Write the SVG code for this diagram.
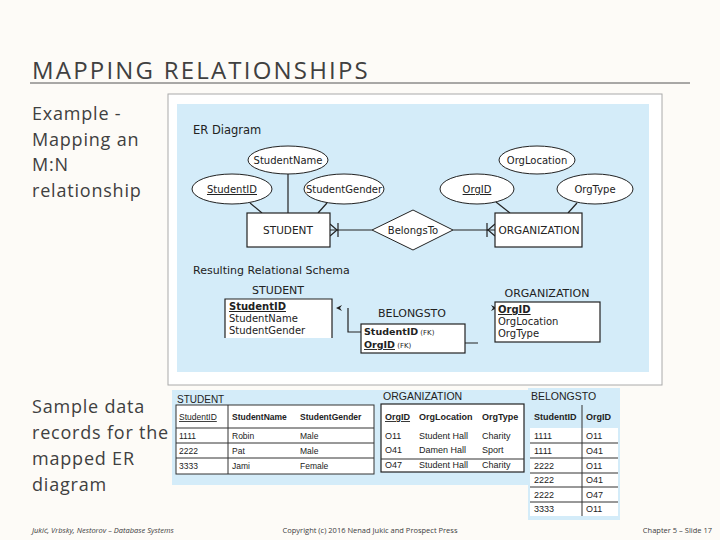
<svg xmlns="http://www.w3.org/2000/svg" width="720" height="540" viewBox="0 0 720 540">
<style>
.sl{font-family:"Open Sans","DejaVu Sans",sans-serif;fill:#404040}
.d{font-family:"DejaVu Sans",sans-serif;fill:#222}
.a{font-family:"Liberation Sans",Arial,sans-serif;fill:#222}
.ln{stroke:#222;stroke-width:1.2;fill:none}
.el{fill:#fff;stroke:#222;stroke-width:1}
.bx{fill:#fff;stroke:#222;stroke-width:1.2}
.tl{stroke:#333;stroke-width:1}
</style>
<rect width="720" height="540" fill="#fdfbf7"/>
<text class="sl" x="32" y="79" font-size="24" letter-spacing="2.2">MAPPING RELATIONSHIPS</text>
<line x1="30" y1="83" x2="690" y2="83" stroke="#555" stroke-width="1"/>
<g class="sl" font-size="18" letter-spacing="0.8">
<text x="32" y="120">Example -</text><text x="32" y="146">Mapping an</text><text x="32" y="171">M:N</text><text x="32" y="197">relationship</text>
<text x="32" y="413">Sample data</text><text x="32" y="439">records for the</text><text x="32" y="465">mapped ER</text><text x="32" y="491">diagram</text>
</g>
<rect x="168" y="94" width="494" height="291" fill="#fff" stroke="#aaa"/>
<rect x="177" y="104" width="472" height="268" fill="#d4ecf9"/>
<text class="d" x="193" y="134" font-size="11.5">ER Diagram</text>
<g id="connectors">
<line class="ln" x1="288" y1="174" x2="288" y2="213"/>
<line class="ln" x1="250" y1="203" x2="262" y2="213"/>
<line class="ln" x1="327" y1="203" x2="318" y2="213"/>
<line class="ln" x1="496" y1="202" x2="510" y2="213"/>
<line class="ln" x1="577" y1="203" x2="568" y2="213"/>
<line class="ln" x1="330" y1="230" x2="372" y2="230"/>
<path class="ln" d="M330 224 L337 230 L330 236 M338 223 V237"/>
<line class="ln" x1="453" y1="230" x2="495" y2="230"/>
<path class="ln" d="M495 224 L488 230 L495 236 M487 223 V237"/>
<path class="ln" d="M348 308 V332 H361 M465 343 H478"/>
<path d="M336 308 L342 305 L340 308 L342 311Z" fill="#222"/>
<path d="M497 308 L491 305 L493 308 L491 311Z" fill="#222"/>
</g>
<g id="StudentName"><ellipse class="el" cx="288" cy="160" rx="40" ry="14"/><text class="d" x="288" y="164" font-size="10" text-anchor="middle">StudentName</text></g>
<g id="StudentID"><ellipse class="el" cx="232" cy="189" rx="40" ry="15"/><text class="d" x="232" y="193" font-size="10" text-anchor="middle" text-decoration="underline">StudentID</text></g>
<g id="StudentGender"><ellipse class="el" cx="344" cy="189" rx="40" ry="15"/><text class="d" x="344" y="193" font-size="10" text-anchor="middle">StudentGender</text></g>
<g id="STUDENT"><rect class="bx" x="247" y="213" width="83" height="34"/><text class="d" x="288" y="234" font-size="10.5" text-anchor="middle">STUDENT</text></g>
<g id="BelongsTo"><path class="el" d="M372 230 L413 210 L453 230 L413 250Z"/><text class="d" x="413" y="234" font-size="10" text-anchor="middle">BelongsTo</text></g>
<g id="ORGANIZATION"><rect class="bx" x="495" y="213" width="87" height="34"/><text class="d" x="539" y="234" font-size="10.5" text-anchor="middle">ORGANIZATION</text></g>
<g id="OrgLocation"><ellipse class="el" cx="537" cy="160" rx="38" ry="14"/><text class="d" x="537" y="164" font-size="10" text-anchor="middle">OrgLocation</text></g>
<g id="OrgID"><ellipse class="el" cx="477" cy="189" rx="37" ry="15"/><text class="d" x="477" y="193" font-size="10" text-anchor="middle" text-decoration="underline">OrgID</text></g>
<g id="OrgType"><ellipse class="el" cx="595" cy="189" rx="38" ry="15"/><text class="d" x="595" y="193" font-size="10" text-anchor="middle">OrgType</text></g>
<text class="d" x="193" y="274" font-size="11">Resulting Relational Schema</text>
<g id="STUDENT-rel">
<text class="d" x="278" y="294" font-size="11" text-anchor="middle">STUDENT</text>
<path d="M225 338 V299 H332 V338Z" fill="#fff"/><path class="ln" d="M225 338 V299 H332 V338"/>
<text class="d" x="229" y="310" font-size="10" font-weight="bold" text-decoration="underline">StudentID</text>
<text class="d" x="229" y="322" font-size="10">StudentName</text>
<text class="d" x="229" y="334" font-size="10">StudentGender</text>
</g>
<g id="BELONGSTO-rel">
<text class="d" x="412" y="317" font-size="11" text-anchor="middle">BELONGSTO</text>
<rect class="bx" x="361" y="324" width="104" height="29"/>
<text class="d" x="364" y="335" font-size="9.5"><tspan font-weight="bold">StudentID</tspan><tspan font-size="7"> (FK)</tspan></text>
<text class="d" x="364" y="348" font-size="9.5"><tspan font-weight="bold" text-decoration="underline">OrgID</tspan><tspan font-size="7"> (FK)</tspan></text>
</g>
<g id="ORGANIZATION-rel">
<text class="d" x="547" y="297" font-size="11" text-anchor="middle">ORGANIZATION</text>
<rect class="bx" x="495" y="302" width="105" height="40"/>
<text class="d" x="498" y="313" font-size="10" font-weight="bold" text-decoration="underline">OrgID</text>
<text class="d" x="498" y="325" font-size="10">OrgLocation</text>
<text class="d" x="498" y="337" font-size="10">OrgType</text>
</g>
<g id="student-data">
<rect x="172" y="390" width="206" height="95" fill="#d4ecf9"/>
<text class="a" x="177" y="403" font-size="10">STUDENT</text>
<rect x="176" y="405" width="198" height="69" fill="#fff" stroke="#333"/>
<line class="tl" x1="176" y1="428" x2="374" y2="428"/><line class="tl" x1="176" y1="443" x2="374" y2="443"/><line class="tl" x1="176" y1="458" x2="374" y2="458"/>
<line class="tl" x1="228" y1="405" x2="228" y2="474"/>
<g class="a" font-size="8.5">
<text x="179" y="420" text-decoration="underline">StudentID</text><text x="232" y="420" font-weight="bold">StudentName</text><text x="300" y="420" font-weight="bold">StudentGender</text>
<text x="179" y="439">1111</text><text x="232" y="439">Robin</text><text x="300" y="439">Male</text>
<text x="179" y="454">2222</text><text x="232" y="454">Pat</text><text x="300" y="454">Male</text>
<text x="179" y="469">3333</text><text x="232" y="469">Jami</text><text x="300" y="469">Female</text>
</g></g>
<g id="org-data">
<rect x="378" y="390" width="150" height="95" fill="#d4ecf9"/>
<text class="a" x="383" y="400" font-size="10.5">ORGANIZATION</text>
<rect x="381" y="404" width="143" height="68" fill="#fff" stroke="#222" stroke-width="1.2"/>
<line class="tl" x1="381" y1="459" x2="524" y2="459"/>
<g class="a" font-size="9">
<text x="385" y="420" font-weight="bold" text-decoration="underline">OrgID</text><text x="419" y="420" font-weight="bold">OrgLocation</text><text x="482" y="420" font-weight="bold">OrgType</text>
<text x="385" y="439">O11</text><text x="419" y="439">Student Hall</text><text x="482" y="439">Charity</text>
<text x="385" y="453">O41</text><text x="419" y="453">Damen Hall</text><text x="482" y="453">Sport</text>
<text x="385" y="468">O47</text><text x="419" y="468">Student Hall</text><text x="482" y="468">Charity</text>
</g></g>
<g id="belongsto-data">
<rect x="528" y="388" width="92" height="132" fill="#d4ecf9"/>
<text class="a" x="531" y="400" font-size="10.5">BELONGSTO</text>
<rect x="530" y="428" width="88" height="88" fill="#fff"/>
<line class="tl" x1="582" y1="405" x2="582" y2="516"/>
<line class="tl" x1="530" y1="443" x2="618" y2="443"/><line class="tl" x1="530" y1="458" x2="618" y2="458"/><line class="tl" x1="530" y1="473" x2="618" y2="473"/><line class="tl" x1="530" y1="487" x2="618" y2="487"/><line class="tl" x1="530" y1="502" x2="618" y2="502"/>
<g class="a" font-size="9">
<text x="534" y="420" font-weight="bold">StudentID</text><text x="586" y="420" font-weight="bold">OrgID</text>
<text x="534" y="439">1111</text><text x="586" y="439">O11</text>
<text x="534" y="454">1111</text><text x="586" y="454">O41</text>
<text x="534" y="469">2222</text><text x="586" y="469">O11</text>
<text x="534" y="483">2222</text><text x="586" y="483">O41</text>
<text x="534" y="498">2222</text><text x="586" y="498">O47</text>
<text x="534" y="512">3333</text><text x="586" y="512">O11</text>
</g></g>
<g class="sl" font-size="7.5">
<text x="32" y="533" font-style="italic">Jukić, Vrbsky, Nestorov – Database Systems</text>
<text x="370" y="533" text-anchor="middle">Copyright (c) 2016 Nenad Jukic and Prospect Press</text>
<text x="712" y="533" text-anchor="end">Chapter 5 – Slide  17</text>
</g>
</svg>
